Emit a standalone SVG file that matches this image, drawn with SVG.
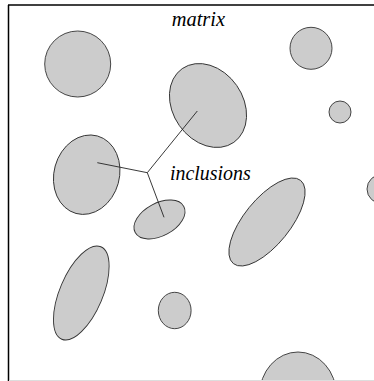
<svg xmlns="http://www.w3.org/2000/svg" width="374" height="381" viewBox="0 0 374 381">
<style>
.inc{fill:#cccccc;stroke:#333333;stroke-width:0.9}
.lbl{font-family:"Liberation Serif",serif;font-style:italic;font-size:20px;fill:#000}
.con{stroke:#222;stroke-width:0.9;fill:none}
</style>
<defs>
<clipPath id="frame"><rect x="8" y="5" width="366" height="375"/></clipPath>
</defs>
<rect width="374" height="381" fill="#fff"/>
<g clip-path="url(#frame)">
<g id="inc1"><circle class="inc" cx="77.7" cy="64" r="33"/></g>
<g id="inc2"><circle class="inc" cx="311" cy="48.3" r="21"/></g>
<g id="inc3"><circle class="inc" cx="340" cy="112" r="11"/></g>
<g id="inc4"><ellipse class="inc" cx="208" cy="105.5" rx="45" ry="35" transform="rotate(55 208 105.5)"/></g>
<g id="inc5"><ellipse class="inc" cx="86.7" cy="174.7" rx="32.7" ry="40.2" transform="rotate(15.4 86.7 174.7)"/></g>
<g id="inc6"><ellipse class="inc" cx="159.5" cy="219.5" rx="27.6" ry="16.4" transform="rotate(-28.3 159.5 219.5)"/></g>
<g id="inc7"><ellipse class="inc" cx="267" cy="222" rx="53.5" ry="23" transform="rotate(-51 267 222)"/></g>
<g id="inc8"><ellipse class="inc" cx="81.3" cy="293" rx="21.5" ry="50.2" transform="rotate(22.9 81.3 293)"/></g>
<g id="inc9"><ellipse class="inc" cx="174.7" cy="310.5" rx="16.4" ry="18.2"/></g>
<g id="inc10"><ellipse class="inc" cx="383" cy="189" rx="16" ry="15"/></g>
<g id="inc11"><ellipse class="inc" cx="298" cy="395" rx="38.4" ry="43"/></g>
</g>
<g id="frame-lines">
<line x1="8" y1="5" x2="374" y2="5" stroke="#000" stroke-width="1.5"/>
<line x1="8.5" y1="5" x2="8.5" y2="381" stroke="#000" stroke-width="1.5"/>
<line x1="9" y1="380.5" x2="374" y2="380.5" stroke="#dddddd" stroke-width="1"/>
</g>
<g id="connectors">
<line class="con" x1="147.3" y1="172.7" x2="197.3" y2="111"/>
<line class="con" x1="147.3" y1="172.7" x2="97.3" y2="162.7"/>
<line class="con" x1="147.3" y1="172.7" x2="164" y2="217.3"/>
</g>
<g id="label-matrix"><text class="lbl" x="171.7" y="25.7" textLength="53.3" lengthAdjust="spacingAndGlyphs">matrix</text></g>
<g id="label-inclusions"><text class="lbl" x="170" y="180" textLength="80.7" lengthAdjust="spacingAndGlyphs">inclusions</text></g>
</svg>
